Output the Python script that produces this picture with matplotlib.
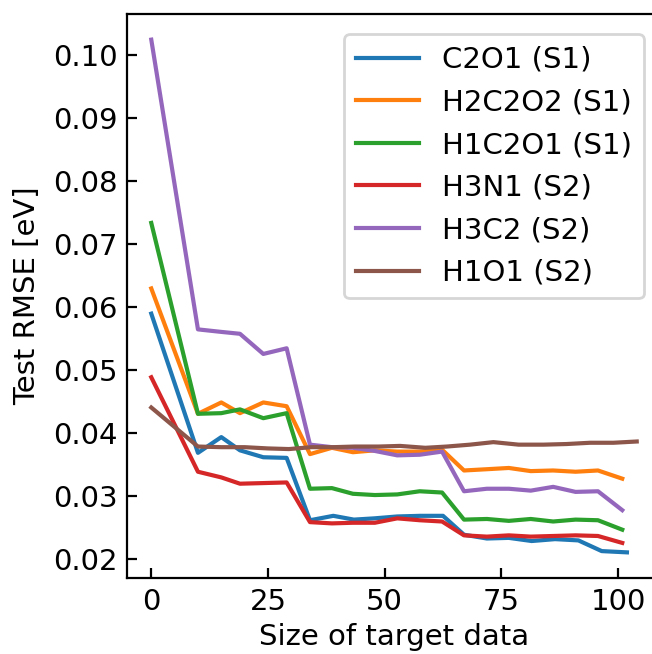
import matplotlib
matplotlib.use("Agg")
import matplotlib.pyplot as plt

# x positions (size of target data)
x_common = [0, 10, 15, 19, 24, 29, 34, 38.7, 43.2, 47.9, 52.7, 57.5, 62.3, 67, 71.9, 76.6, 81.3, 86.1, 90.9, 95.7, 100.9]
x_c2o1 = [0, 10, 15, 19, 24, 29, 34, 39, 43.4, 47.8, 52.7, 57.6, 62.5, 67, 71.9, 76.6, 81.5, 86.5, 91.5, 96.5, 101.9]
x_h1o1 = [0, 10, 15, 20, 25, 29.5, 34.3, 39, 43.6, 48.7, 53.3, 58.7, 63.3, 68.3, 73.3, 78.7, 84, 89, 94, 99, 104]

labels = ["C2O1 (S1)", "H2C2O2 (S1)", "H1C2O1 (S1)", "H3N1 (S2)", "H3C2 (S2)", "H1O1 (S2)"]

c2o1 = [0.0589, 0.0368, 0.0393, 0.0372, 0.0361, 0.0360, 0.0261, 0.0268, 0.0262, 0.0264, 0.0267,
        0.0268, 0.0268, 0.0238, 0.0232, 0.0233, 0.0228, 0.0231, 0.0229, 0.0212, 0.0210]
h2c2o2 = [0.0629, 0.0430, 0.0448, 0.0431, 0.0448, 0.0442, 0.0366, 0.0376, 0.0369, 0.0372, 0.0370,
          0.0370, 0.0373, 0.0340, 0.0342, 0.0344, 0.0339, 0.0340, 0.0338, 0.0340, 0.0327]
h1c2o1 = [0.0733, 0.0430, 0.0431, 0.0437, 0.0423, 0.0431, 0.0311, 0.0312, 0.0303, 0.0301, 0.0302,
          0.0307, 0.0305, 0.0262, 0.0263, 0.0260, 0.0263, 0.0259, 0.0262, 0.0261, 0.0246]
h3n1 = [0.0488, 0.0338, 0.0329, 0.0319, 0.0320, 0.0321, 0.0258, 0.0256, 0.0257, 0.0257, 0.0264,
        0.0261, 0.0259, 0.0237, 0.0235, 0.0237, 0.0235, 0.0236, 0.0237, 0.0236, 0.0225]
h3c2 = [0.1024, 0.0564, 0.0560, 0.0557, 0.0525, 0.0534, 0.0381, 0.0377, 0.0376, 0.0371, 0.0364,
        0.0365, 0.0370, 0.0307, 0.0311, 0.0311, 0.0308, 0.0314, 0.0306, 0.0307, 0.0277]
h1o1 = [0.0440, 0.0378, 0.0377, 0.0377, 0.0375, 0.0374, 0.0377, 0.0377, 0.0378, 0.0378, 0.0379,
        0.0376, 0.0378, 0.0381, 0.0385, 0.0381, 0.0381, 0.0382, 0.0384, 0.0384, 0.0386]

series = [(x_c2o1, c2o1), (x_common, h2c2o2), (x_common, h1c2o1),
          (x_common, h3n1), (x_common, h3c2), (x_h1o1, h1o1)]

plt.rcParams["font.size"] = 10.5

fig = plt.figure(figsize=(6.52 / 2, 6.54 / 2), dpi=200)
ax = fig.add_axes([127 / 652, 1 - 578 / 654, (661 - 127) / 652, (578 - 14) / 654])

for (xs, ys), lab in zip(series, labels):
    ax.plot(xs, ys, label=lab)

ax.tick_params(direction="in")
ax.set_xticks([0, 25, 50, 75, 100])
ax.set_yticks([0.02, 0.03, 0.04, 0.05, 0.06, 0.07, 0.08, 0.09, 0.10])
ax.set_xlabel("Size of target data", labelpad=2.5)
ax.set_ylabel("Test RMSE [eV]")
ax.legend(loc="upper right", handlelength=2.15, bbox_to_anchor=(0.995, 0.99))

fig.savefig("out.png", dpi=200)
